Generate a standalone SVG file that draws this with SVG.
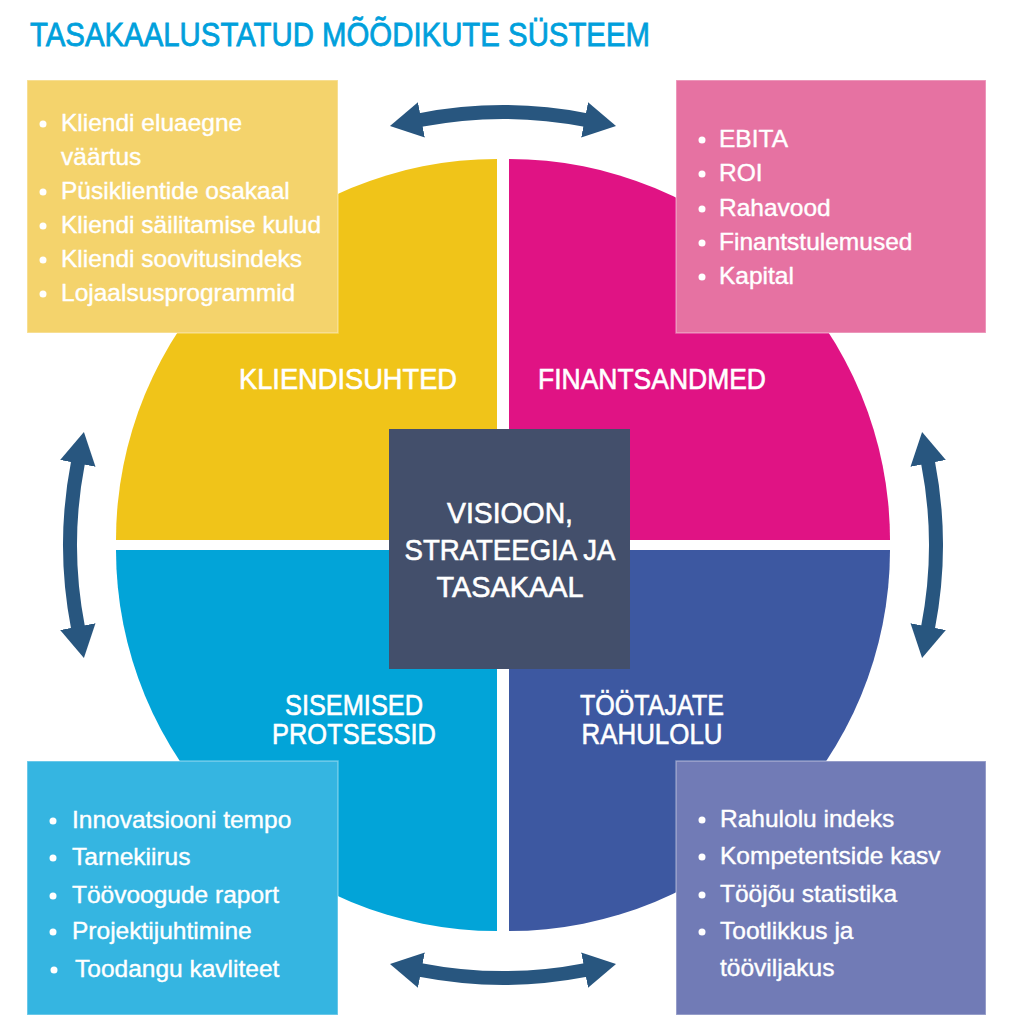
<svg xmlns="http://www.w3.org/2000/svg" width="1024" height="1024" viewBox="0 0 1024 1024">
<defs>
<marker id="head" markerUnits="userSpaceOnUse" viewBox="0 0 32 36" refX="1" refY="18" markerWidth="32" markerHeight="36" orient="auto-start-reverse">
<path d="M0,0 L32,18 L0,36 Z" fill="#28567f"/>
</marker>
<style>
.cap{font-family:"Liberation Sans",Arial,sans-serif;fill:#ffffff;stroke:#ffffff;stroke-width:0.6;font-size:29px;text-anchor:middle}
.item{font-family:"Liberation Sans",Arial,sans-serif;fill:#ffffff;stroke:#ffffff;stroke-width:0.4;font-size:24.5px}
.bul{fill:#ffffff}
.box{stroke:#ffffff;stroke-opacity:0.35;stroke-width:1.5}
.arrow{fill:none;stroke:#28567f;stroke-width:14;marker-start:url(#head);marker-end:url(#head)}
</style>
</defs>
<rect width="1024" height="1024" fill="#ffffff"/>

<g id="title">
<text x="30" y="46" font-family="Liberation Sans, Arial, sans-serif" font-size="34" fill="#00a0dc" stroke="#00a0dc" stroke-width="0.8" textLength="620" lengthAdjust="spacingAndGlyphs">TASAKAALUSTATUD MÕÕDIKUTE SÜSTEEM</text>
</g>

<g id="kliendisuhted">
<path d="M497,540 L116,540 A381,381 0 0 1 497,159 Z" fill="#f0c419"/>
<text class="cap" x="348" y="389" textLength="218" lengthAdjust="spacingAndGlyphs">KLIENDISUHTED</text>
</g>
<g id="finantsandmed">
<path d="M509,540 L509,159 A381,381 0 0 1 890,540 Z" fill="#e01384"/>
<text class="cap" x="652" y="389" textLength="228" lengthAdjust="spacingAndGlyphs">FINANTSANDMED</text>
</g>
<g id="sisemised-protsessid">
<path d="M497,550 L116,550 A381,381 0 0 0 497,931 Z" fill="#02a4d8"/>
<text class="cap" x="354" y="715" textLength="138" lengthAdjust="spacingAndGlyphs">SISEMISED</text>
<text class="cap" x="354" y="744" textLength="164" lengthAdjust="spacingAndGlyphs">PROTSESSID</text>
</g>
<g id="tootajate-rahulolu">
<path d="M509,550 L890,550 A381,381 0 0 1 509,931 Z" fill="#3d58a1"/>
<text class="cap" x="652" y="715" textLength="144" lengthAdjust="spacingAndGlyphs">TÖÖTAJATE</text>
<text class="cap" x="652" y="744" textLength="141" lengthAdjust="spacingAndGlyphs">RAHULOLU</text>
</g>

<g id="visioon">
<rect x="389" y="429" width="241" height="240" fill="#434f6b"/>
<text class="cap" x="510" y="523" textLength="126" lengthAdjust="spacingAndGlyphs">VISIOON,</text>
<text class="cap" x="510" y="560" textLength="211" lengthAdjust="spacingAndGlyphs">STRATEEGIA JA</text>
<text class="cap" x="510" y="597" textLength="147" lengthAdjust="spacingAndGlyphs">TASAKAAL</text>
</g>

<g id="kliendi-moodikud">
<rect class="box" x="27" y="80" width="311" height="253" fill="#f4d36c"/>
<circle class="bul" cx="43" cy="124" r="3.5"/><text class="item" x="61" y="131">Kliendi eluaegne</text>
<text class="item" x="61" y="165">väärtus</text>
<circle class="bul" cx="43" cy="192" r="3.5"/><text class="item" x="61" y="199">Püsiklientide osakaal</text>
<circle class="bul" cx="43" cy="226" r="3.5"/><text class="item" x="61" y="233">Kliendi säilitamise kulud</text>
<circle class="bul" cx="43" cy="260" r="3.5"/><text class="item" x="61" y="267">Kliendi soovitusindeks</text>
<circle class="bul" cx="43" cy="294" r="3.5"/><text class="item" x="61" y="301">Lojaalsusprogrammid</text>
</g>

<g id="finants-moodikud">
<rect class="box" x="676" y="80" width="310" height="253" fill="#e672a2"/>
<circle class="bul" cx="702" cy="140" r="3.5"/><text class="item" x="719" y="147">EBITA</text>
<circle class="bul" cx="702" cy="174" r="3.5"/><text class="item" x="719" y="181">ROI</text>
<circle class="bul" cx="702" cy="209" r="3.5"/><text class="item" x="719" y="216">Rahavood</text>
<circle class="bul" cx="702" cy="243" r="3.5"/><text class="item" x="719" y="250">Finantstulemused</text>
<circle class="bul" cx="702" cy="277" r="3.5"/><text class="item" x="719" y="284">Kapital</text>
</g>

<g id="protsessi-moodikud">
<rect class="box" x="27" y="761" width="311" height="254" fill="#35b5e1"/>
<circle class="bul" cx="53" cy="821" r="3.5"/><text class="item" x="72" y="828">Innovatsiooni tempo</text>
<circle class="bul" cx="53" cy="858" r="3.5"/><text class="item" x="72" y="865">Tarnekiirus</text>
<circle class="bul" cx="53" cy="896" r="3.5"/><text class="item" x="72" y="903">Töövoogude raport</text>
<circle class="bul" cx="53" cy="932" r="3.5"/><text class="item" x="72" y="939">Projektijuhtimine</text>
<circle class="bul" cx="54" cy="970" r="3.5"/><text class="item" x="75" y="977">Toodangu kavliteet</text>
</g>

<g id="tootajate-moodikud">
<rect class="box" x="676" y="761" width="310" height="254" fill="#717bb6"/>
<circle class="bul" cx="702" cy="820" r="3.5"/><text class="item" x="720" y="827">Rahulolu indeks</text>
<circle class="bul" cx="702" cy="857" r="3.5"/><text class="item" x="720" y="864">Kompetentside kasv</text>
<circle class="bul" cx="702" cy="895" r="3.5"/><text class="item" x="720" y="902">Tööjõu statistika</text>
<circle class="bul" cx="702" cy="932" r="3.5"/><text class="item" x="720" y="939">Tootlikkus ja</text>
<text class="item" x="720" y="976">tööviljakus</text>
</g>

<g id="connectors">
<path class="arrow" d="M420.4,120 A433,433 0 0 1 585.6,120"/>
<path class="arrow" d="M420.4,970 A433,433 0 0 0 585.6,970"/>
<path class="arrow" d="M78,462.4 A433,433 0 0 0 78,627.6"/>
<path class="arrow" d="M928,462.4 A433,433 0 0 1 928,627.6"/>
</g>
</svg>
